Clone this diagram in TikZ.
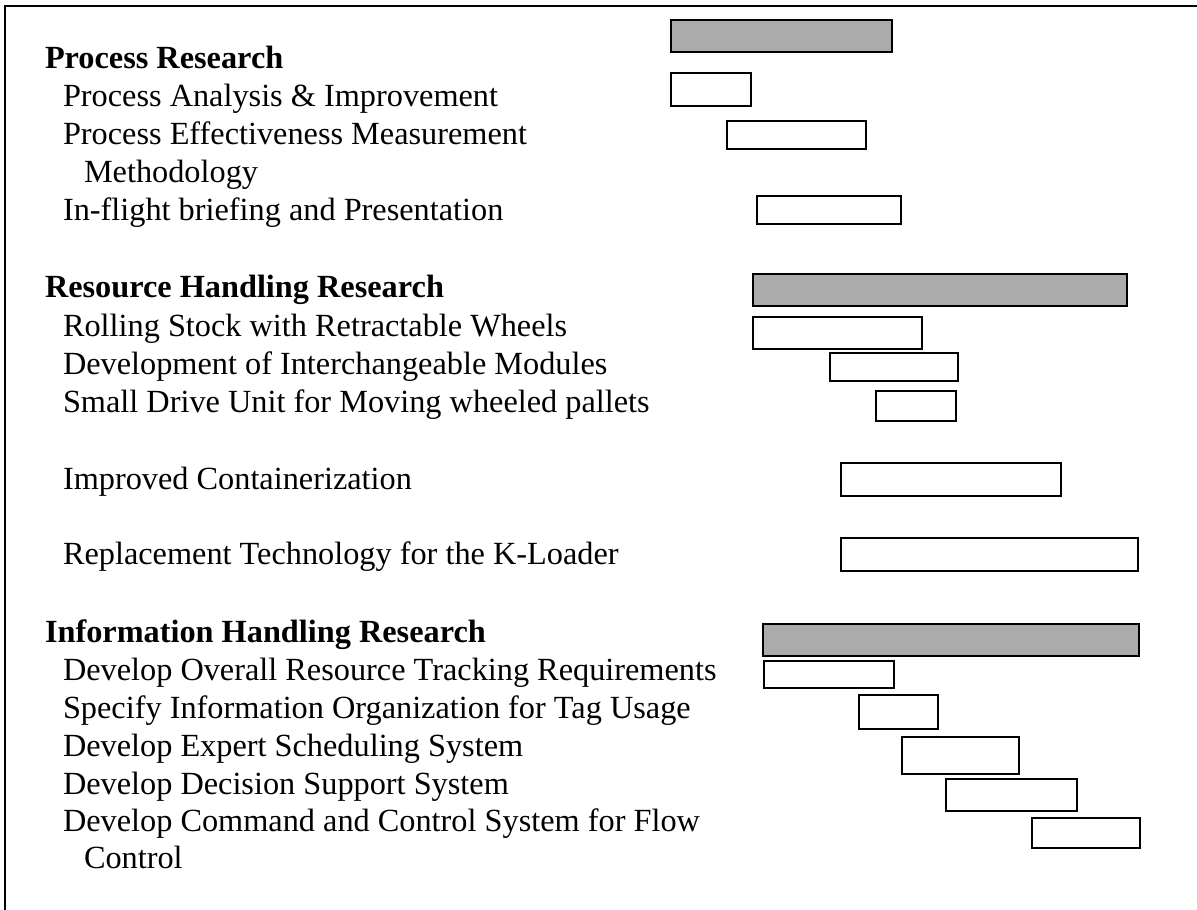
\documentclass[tikz,border=0pt]{standalone}
\usepackage{fontspec}
\setmainfont{Liberation Serif}
\begin{document}
\begin{tikzpicture}[x=1pt,y=-1pt,
  lbl/.style={anchor=base west,inner sep=0pt,outer sep=0pt,font=\fontsize{32.3}{38}\selectfont},
  hd/.style={lbl,font=\fontsize{32.3}{38}\selectfont\bfseries},
  task/.style={draw=black,line width=2pt,fill=white,anchor=north west,inner sep=0pt,outer sep=0pt},
  summ/.style={task,line width=2.4pt,fill=black!33}]
\useasboundingbox (0,0) rectangle (1197,910);
% frame (top and left edges)
\coordinate (fl) at (5,910);
\coordinate (ftl) at (5,6);
\coordinate (ftr) at (1197,6);
\draw[line width=2pt] (fl) -- (ftl) -- (ftr);
% labels
\node[hd]   (t1)  at (45,68)  {Process Research};
\node[lbl]  (t2)  at (63,106) {Process Analysis \& Improvement};
\node[lbl]  (t3)  at (63,144) {Process Effectiveness Measurement};
\node[lbl]  (t3b) at (84,182) {Methodology};
\node[lbl]  (t4)  at (63,220) {In-flight briefing and Presentation};
\node[hd]   (t5)  at (45,297) {Resource Handling Research};
\node[lbl]  (t6)  at (63,336) {Rolling Stock with Retractable Wheels};
\node[lbl]  (t7)  at (63,374) {Development of Interchangeable Modules};
\node[lbl]  (t8)  at (63,412) {Small Drive Unit for Moving wheeled pallets};
\node[lbl]  (t9)  at (63,489) {Improved Containerization};
\node[lbl]  (t10) at (63,564) {Replacement Technology for the K-Loader};
\node[hd]   (t11) at (45,642) {Information Handling Research};
\node[lbl]  (t12) at (63,680) {Develop Overall Resource Tracking Requirements};
\node[lbl]  (t13) at (63,718) {Specify Information Organization for Tag Usage};
\node[lbl]  (t14) at (63,756) {Develop Expert Scheduling System};
\node[lbl]  (t15) at (63,794) {Develop Decision Support System};
\node[lbl]  (t16) at (63,831) {Develop Command and Control System for Flow};
\node[lbl]  (t16b) at (84,868) {Control};
% bars
\node[summ, minimum width=221pt, minimum height=32pt] (b1)  at (671,20)  {};
\node[task, minimum width=80pt,  minimum height=33pt] (b2)  at (671,73)  {};
\node[task, minimum width=139pt, minimum height=28pt] (b3)  at (727,121) {};
\node[task, minimum width=144pt, minimum height=28pt] (b4)  at (757,196) {};
\node[summ, minimum width=374pt, minimum height=32pt] (b5)  at (753,274) {};
\node[task, minimum width=169pt, minimum height=32pt] (b6)  at (753,317) {};
\node[task, minimum width=128pt, minimum height=28pt] (b7)  at (830,353) {};
\node[task, minimum width=80pt,  minimum height=30pt] (b8)  at (876,391) {};
\node[task, minimum width=220pt, minimum height=33pt] (b9)  at (841,463) {};
\node[task, minimum width=297pt, minimum height=33pt] (b10) at (841,538) {};
\node[summ, minimum width=376pt, minimum height=32pt] (b11) at (763,624) {};
\node[task, minimum width=130pt, minimum height=27pt] (b12) at (764,661) {};
\node[task, minimum width=79pt,  minimum height=34pt] (b13) at (859,695) {};
\node[task, minimum width=117pt, minimum height=37pt] (b14) at (902,737) {};
\node[task, minimum width=131pt, minimum height=32pt] (b15) at (946,779) {};
\node[task, minimum width=108pt, minimum height=30pt] (b16) at (1032,818) {};
\end{tikzpicture}
\end{document}
